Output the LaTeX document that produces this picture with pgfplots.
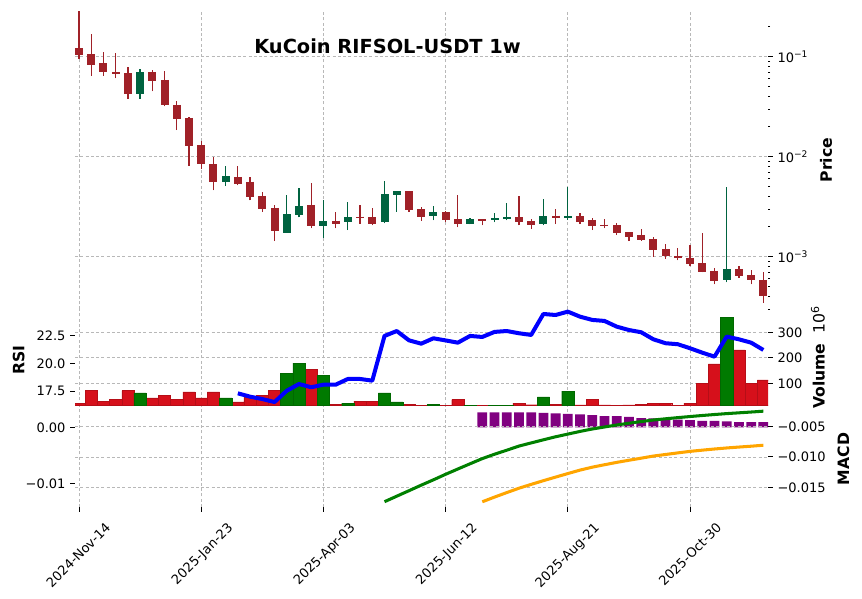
\documentclass[border=0pt]{standalone}
\usepackage{fontspec}
\setmainfont{DejaVu Sans}
\usepackage{pgfplots}
\pgfplotsset{compat=1.18}
\definecolor{cdown}{HTML}{A02128}
\definecolor{cup}{HTML}{006340}
\definecolor{vdown}{HTML}{D6101B}
\definecolor{vup}{HTML}{007A00}
\definecolor{gridc}{HTML}{B8B8B8}
\definecolor{macdg}{HTML}{008000}
\definecolor{sigo}{HTML}{FFA500}
\definecolor{histp}{HTML}{800080}
\pgfplotsset{
  panel/.style={
    scale only axis, width=6.93in,
    xmin=-0.327, xmax=56.38,
    axis line style={draw=none},
    major tick length=0.046in, minor tick length=0.022in,
    tick align=outside,
    every tick/.style={line width=0.6pt},
    xtick={0,10,20,30,40,50},
    grid style={gridc, line width=0.5pt, dash pattern=on 2.2pt off 1.6pt},
    ticklabel style={font=\fontsize{9.4}{11}\selectfont},
    /pgf/number format/assume math mode=true,
    scaled y ticks=false, scaled x ticks=false,
    clip=true,
  },
}
\begin{document}
\begin{tikzpicture}
\useasboundingbox (-0.75in,0.11in) rectangle (7.87in,-5.88in);
% ---------------- price panel
\begin{axis}[panel, at={(0,0)}, anchor=north west, height=2.985in,
  ymode=log, ymin=0.0002965, ymax=0.2864,
  xticklabels={}, xtick style={draw=none}, xmajorgrids, ymajorgrids,
  ytick={0.001,0.01,0.1},
  yticklabels={10\textsuperscript{−3},10\textsuperscript{−2},10\textsuperscript{−1}},
  minor ytick={0.0003,0.0004,0.0005,0.0006,0.0007,0.0008,0.0009,0.002,0.003,0.004,0.005,0.006,0.007,0.008,0.009,0.02,0.03,0.04,0.05,0.06,0.07,0.08,0.09,0.2},
  ytick pos=right, yticklabel pos=right,
  unbounded coords=jump]
\addplot[cdown, line width=0.9pt] coordinates {
(0,0.0948) (0,0.29) (0,nan) (1,0.0646) (1,0.1675) (1,nan) (2,0.0646) (2,0.1114) (2,nan)
(3,0.0608) (3,0.108) (3,nan) (4,0.038) (4,0.0789) (4,nan) (6,0.0451) (6,0.0731) (6,nan)
(7,0.0319) (7,0.0714) (7,nan) (8,0.0184) (8,0.0358) (8,nan) (9,0.00813) (9,0.0249) (9,nan)
(10,0.00748) (10,0.01426) (10,nan) (11,0.00461) (11,0.01) (11,nan) (13,0.00518) (13,0.00802) (13,nan)
(14,0.00366) (14,0.00622) (14,nan) (15,0.00282) (15,0.00444) (15,nan) (16,0.00143) (16,0.00327) (16,nan)
(19,0.00192) (19,0.00546) (19,nan) (21,0.00192) (21,0.00278) (21,nan) (23,0.00214) (23,0.00327) (23,nan)
(24,0.00206) (24,0.00305) (24,nan) (27,0.00282) (27,0.00454) (27,nan) (28,0.00229) (28,0.00312) (28,nan)
(30,0.00222) (30,0.00284) (30,nan) (31,0.00197) (31,0.00411) (31,nan) (33,0.00206) (33,0.0024) (33,nan)
(36,0.00206) (36,0.00405) (36,nan) (37,0.00189) (37,0.00237) (37,nan) (39,0.00212) (39,0.00298) (39,nan)
(41,0.00212) (41,0.00272) (41,nan) (42,0.00184) (42,0.00246) (42,nan) (43,0.00192) (43,0.00237) (43,nan)
(44,0.00164) (44,0.00216) (44,nan) (45,0.00143) (45,0.00178) (45,nan) (46,0.00145) (46,0.00188) (46,nan)
(47,0.001) (47,0.00156) (47,nan) (48,0.000955) (48,0.00133) (48,nan) (49,0.00092) (49,0.00121) (49,nan)
(50,0.000802) (50,0.0013) (50,nan) (51,0.000698) (51,0.00171) (51,nan) (52,0.00053) (52,0.000766) (52,nan)
(54,0.000617) (54,0.000802) (54,nan) (55,0.00053) (55,0.000731) (55,nan) (56,0.000347) (56,0.000708)
};
\addplot[cup, line width=0.9pt] coordinates {
(5,0.038) (5,0.0748) (5,nan) (12,0.00509) (12,0.00802) (12,nan) (17,0.00173) (17,0.00411) (17,nan)
(18,0.00248) (18,0.00483) (18,nan) (20,0.00154) (20,0.00366) (20,nan) (22,0.00184) (22,0.00352) (22,nan)
(25,0.00216) (25,0.00568) (25,nan) (26,0.00282) (26,0.00454) (26,nan) (29,0.00231) (29,0.00319) (29,nan)
(32,0.00211) (32,0.00242) (32,nan) (34,0.0022) (34,0.00272) (34,nan) (35,0.00231) (35,0.00342) (35,nan)
(38,0.00206) (38,0.00375) (38,nan) (40,0.00233) (40,0.00494) (40,nan) (53,0.000555) (53,0.00494)
};
\addplot[cdown, line width=0.08in] coordinates {
(0,0.122) (0,0.1047) (0,nan) (1,0.1064) (1,0.0826) (1,nan) (2,0.0865) (2,0.0708) (2,nan)
(3,0.0703) (3,0.0671) (3,nan) (4,0.0687) (4,0.0427) (4,nan) (6,0.0703) (6,0.0571) (6,nan)
(7,0.0585) (7,0.0329) (7,nan) (8,0.0329) (8,0.024) (8,nan) (9,0.0244) (9,0.0129) (9,nan)
(10,0.0131) (10,0.00851) (10,nan) (11,0.00845) (11,0.00562) (11,nan) (13,0.00627) (13,0.00537) (13,nan)
(14,0.00562) (14,0.00398) (14,nan) (15,0.00405) (15,0.00302) (15,nan) (16,0.00307) (16,0.00182) (16,nan)
(19,0.00329) (19,0.00203) (19,nan) (21,0.00229) (21,0.00214) (21,nan) (23,0.00251) (23,0.00244) (23,nan)
(24,0.00249) (24,0.00214) (24,nan) (27,0.00454) (27,0.00293) (27,nan) (28,0.00298) (28,0.00249) (28,nan)
(30,0.00278) (30,0.00233) (30,nan) (31,0.00237) (31,0.00214) (31,nan) (33,0.00237) (33,0.00229) (33,nan)
(36,0.00249) (36,0.00224) (36,nan) (37,0.00228) (37,0.00209) (37,nan) (39,0.00257) (39,0.00244) (39,nan)
(41,0.00255) (41,0.00224) (41,nan) (42,0.00233) (42,0.00203) (42,nan) (43,0.00209) (43,0.00201) (43,nan)
(44,0.00207) (44,0.00174) (44,nan) (45,0.00176) (45,0.00158) (45,nan) (46,0.00165) (46,0.00147) (46,nan)
(47,0.0015) (47,0.00117) (47,nan) (48,0.00119) (48,0.00102) (48,nan) (49,0.00102) (49,0.00097) (49,nan)
(50,0.00097) (50,0.000851) (50,nan) (51,0.000859) (51,0.000708) (51,nan) (52,0.00072) (52,0.000575) (52,nan)
(54,0.000754) (54,0.000646) (54,nan) (55,0.000656) (55,0.000581) (55,nan) (56,0.000585) (56,0.000407)
};
\addplot[cup, line width=0.08in] coordinates {
(5,0.0427) (5,0.0703) (5,nan) (12,0.00562) (12,0.00641) (12,nan) (17,0.00174) (17,0.00267) (17,nan)
(18,0.00263) (18,0.00321) (18,nan) (20,0.00204) (20,0.00228) (20,nan) (22,0.00224) (22,0.00249) (22,nan)
(25,0.00222) (25,0.00424) (25,nan) (26,0.00417) (26,0.00454) (26,nan) (29,0.00257) (29,0.00278) (29,nan)
(32,0.00214) (32,0.00237) (32,nan) (34,0.00235) (34,0.00244) (34,nan) (35,0.00238) (35,0.00249) (35,nan)
(38,0.00214) (38,0.00255) (38,nan) (40,0.00244) (40,0.00257) (40,nan) (53,0.000589) (53,0.000754)
};
\end{axis}
% ---------------- volume panel
\begin{axis}[panel, at={(0,-2.985in)}, anchor=north west, height=0.962in,
  ymin=12.16, ymax=389.4,
  xticklabels={}, xtick style={draw=none}, xmajorgrids, ymajorgrids,
  ytick={100,200,300}, yticklabels={100,200,300},
  ytick pos=right, yticklabel pos=right]
\addplot[ybar, bar width=1, bar shift=0pt, fill=vdown, draw=vdown!85!black, line width=0.3pt] coordinates {
(0,22.7) (1,71) (2,30.6) (3,35.7) (4,71) (6,42.4) (7,54) (8,38.4) (9,66) (10,42.4) (11,66)
(13,26.7) (14,45) (15,54) (16,73.7) (19,156) (21,18.8) (23,30.6) (24,30.6) (27,18.8) (28,14.9)
(30,8) (31,35.7) (33,8) (36,22.7) (37,16) (39,18.8) (41,15) (42,38.4) (43,15) (44,8) (45,15)
(46,18.8) (47,22.7) (48,22.7) (49,8) (50,22.7) (51,101) (52,175.7) (54,230.6) (55,101) (56,113)
};
\addplot[ybar, bar width=1, bar shift=0pt, fill=vup, draw=vup!85!black, line width=0.3pt] coordinates {
(5,62) (12,42.4) (17,140) (18,179.6) (20,132.5) (22,22.7) (25,62) (26,26.7) (29,18.8)
(32,8) (34,8) (35,8) (38,46.3) (40,69.8) (53,360)
};
\end{axis}
% ---------------- RSI overlay
\begin{axis}[panel, at={(0,-2.985in)}, anchor=north west, height=0.962in,
  ymin=16.214, ymax=24.80,
  xticklabels={}, xtick style={draw=none},
  ytick={17.5,20,22.5}, yticklabels={17.5,20.0,22.5},
  ytick pos=left, yticklabel pos=left]
\addplot[blue, line width=2.9pt, line join=round] coordinates {
(13,17.32) (14,17.02) (15,16.81) (16,16.54) (17,17.55) (18,18.15) (19,17.86) (20,18.09) (21,18.09)
(22,18.6) (23,18.6) (24,18.45) (25,22.44) (26,22.88) (27,22.05) (28,21.75) (29,22.23) (30,22.04)
(31,21.84) (32,22.44) (33,22.35) (34,22.8) (35,22.88) (36,22.68) (37,22.53) (38,24.4) (39,24.31)
(40,24.61) (41,24.16) (42,23.87) (43,23.78) (44,23.27) (45,22.97) (46,22.77) (47,22.14) (48,21.79)
(49,21.7) (50,21.34) (51,20.95) (52,20.59) (53,22.38) (54,22.14) (55,21.84) (56,21.19)
};
\end{axis}
% ---------------- MACD histogram (left axis)
\begin{axis}[panel, at={(0,-3.947in)}, anchor=north west, height=1.013in,
  ymin=-0.01413, ymax=0.00383,
  xmajorgrids,
  xticklabels={2024-Nov-14,2025-Jan-23,2025-Apr-03,2025-Jun-12,2025-Aug-21,2025-Oct-30},
  xticklabel style={inner sep=0pt, xshift=0.254in, yshift=-0.10in, rotate=45, anchor=north east},
  ytick={-0.01,0}, yticklabels={−0.01,0.00},
  ytick pos=left, yticklabel pos=left, xtick pos=bottom]
\addplot[ybar, bar width=0.8, bar shift=0pt, fill=histp, draw=none] coordinates {
(33,0.00266) (34,0.00266) (35,0.00266) (36,0.00266) (37,0.00266) (38,0.00254) (39,0.00248) (40,0.00236)
(41,0.0023) (42,0.00218) (43,0.002) (44,0.002) (45,0.00183) (46,0.00165) (47,0.0016) (48,0.00147)
(49,0.00135) (50,0.00129) (51,0.00112) (52,0.00112) (53,0.00106) (54,0.00094) (55,0.00094) (56,0.00094)
};
\end{axis}
% ---------------- MACD lines (right axis)
\begin{axis}[panel, at={(0,-3.947in)}, anchor=north west, height=1.013in,
  ymin=-0.01824, ymax=-0.00158,
  xticklabels={}, xtick style={draw=none}, ymajorgrids,
  ytick={-0.015,-0.01,-0.005}, yticklabels={−0.015,−0.010,−0.005},
  ytick pos=right, yticklabel pos=right]
\addplot[macdg, line width=2.2pt] coordinates {
(25,-0.01737) (26,-0.01646) (27,-0.01556) (28,-0.01465) (29,-0.01377) (30,-0.01286) (31,-0.01199)
(32,-0.01113) (33,-0.01028) (34,-0.00956) (35,-0.0089) (36,-0.00822) (37,-0.0077) (38,-0.00719)
(39,-0.00669) (40,-0.00625) (41,-0.00581) (42,-0.00541) (43,-0.00508) (44,-0.00475) (45,-0.00446)
(46,-0.00419) (47,-0.00393) (48,-0.00373) (49,-0.00354) (50,-0.00336) (51,-0.00319) (52,-0.00303)
(53,-0.00288) (54,-0.00275) (55,-0.00262) (56,-0.00248)
};
\addplot[sigo, line width=2.2pt] coordinates {
(33,-0.01738) (34,-0.01661) (35,-0.01587) (36,-0.01515) (37,-0.01452) (38,-0.01391) (39,-0.01332)
(40,-0.01274) (41,-0.01217) (42,-0.01169) (43,-0.01129) (44,-0.0109) (45,-0.01055) (46,-0.01021)
(47,-0.00986) (48,-0.0096) (49,-0.00934) (50,-0.00909) (51,-0.00889) (52,-0.0087) (53,-0.00853)
(54,-0.00838) (55,-0.00824) (56,-0.00808)
};
\end{axis}
% ---------------- titles and labels
\node[anchor=base, font=\fontsize{14}{16}\selectfont\bfseries] at (3.125in,-0.423in) {KuCoin RIFSOL-USDT 1w};
\node[rotate=90, font=\fontsize{11.3}{13}\selectfont\bfseries] at (7.51in,-1.49in) {Price};
\node[rotate=90, font=\fontsize{11.3}{13}\selectfont] at (7.43in,-3.465in) {\textbf{Volume}\ \ 10\textsuperscript{6}};
\node[rotate=90, font=\fontsize{11.3}{13}\selectfont\bfseries] at (7.683in,-4.48in) {MACD};
\node[rotate=90, font=\fontsize{11.3}{13}\selectfont\bfseries] at (-0.562in,-3.49in) {RSI};
\end{tikzpicture}
\end{document}
